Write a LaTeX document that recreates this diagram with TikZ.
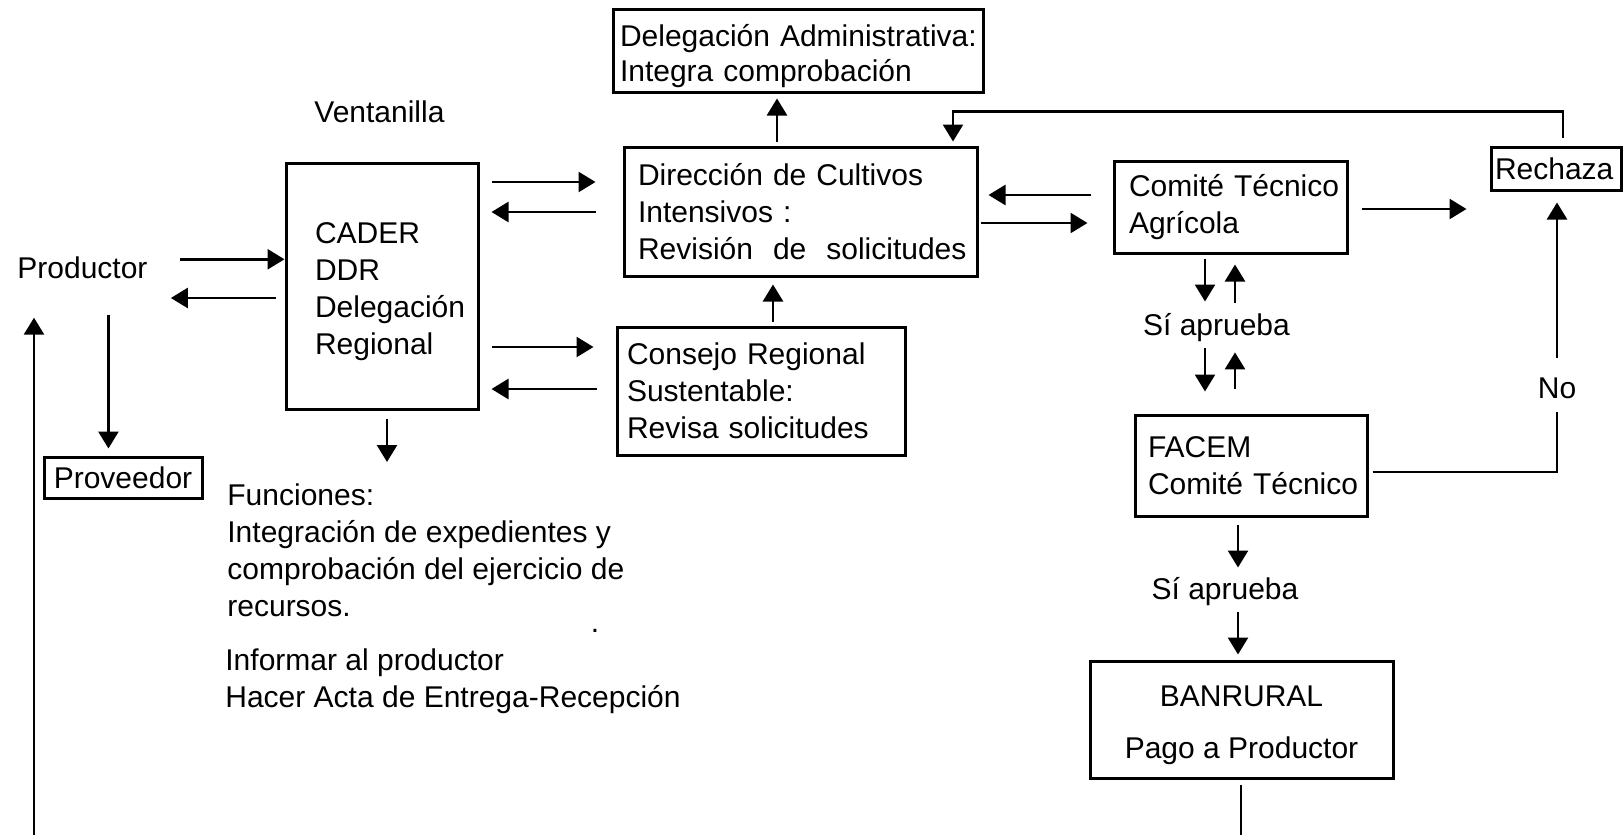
\documentclass[tikz,border=0pt]{standalone}
\usepackage{fontspec}
\setmainfont{Liberation Sans}
\usetikzlibrary{arrows.meta}
\usetikzlibrary{calc}
\hfuzz=300pt
\hbadness=10000
\newcommand{\alto}[1]{\rule{0pt}{#1}}% taller first line, pushes the text down
\tikzset{
	caja/.style={draw, line width=1.5pt, inner sep=0pt, align=left},
	texto/.style={inner sep=0pt, align=left},
	flecha/.style={line width=1.3pt, -{Triangle[length=8.5pt,width=10pt]}},
	linea/.style={line width=1.3pt}
}

\begin{document}
\begin{tikzpicture}[x=0.5pt, y=-0.5pt, font=\fontsize{15pt}{18.5pt}\selectfont]
	\useasboundingbox (0,0) rectangle (1623,835);

	%boxes
	\node[caja, minimum width=185pt, minimum height=41.5pt, text width=178pt,
		font=\fontsize{15pt}{17.5pt}\selectfont] (delad) at (798,50.5)
		{\alto{17pt}\mbox{Delegación Administrativa:}\\\mbox{Integra comprobación}};
	\node[caja, minimum width=96pt, minimum height=123pt, text width=67pt] (cader) at (382,286)
		{\alto{16pt}CADER\\DDR\\\mbox{Delegación}\\Regional};
	\node[caja, minimum width=176.5pt, minimum height=64.5pt, text width=162.5pt] (direccion) at (800.5,211.5)
		{\mbox{Dirección de Cultivos}\\\mbox{Intensivos :}\\\mbox{Revisión~ de~ solicitudes}};
	\node[caja, minimum width=144pt, minimum height=64pt, text width=134pt] (consejo) at (761,391)
		{\mbox{Consejo Regional}\\\mbox{Sustentable:}\\\mbox{Revisa solicitudes}};
	\node[caja, minimum width=116.5pt, minimum height=46pt, text width=101.5pt] (comite) at (1230.5,207)
		{\mbox{Comité Técnico}\\Agrícola};
	\node[caja, minimum width=65pt, minimum height=21.5pt, text width=61pt] (rechaza) at (1556,168.5)
		{Rechaza};
	\node[caja, minimum width=116pt, minimum height=50.5pt, text width=103pt] (facem) at (1251,465.5)
		{FACEM\\\mbox{Comité Técnico}};
	\node[caja, minimum width=151.5pt, minimum height=58.5pt, align=center] (banrural) at (1241.5,719.5)
		{\alto{16pt}BANRURAL\\[7.5pt]Pago a Productor};
	\node[caja, minimum width=79pt, minimum height=20.5pt, align=center] (proveedor) at (123,477.5)
		{Proveedor};

	%free texts
	\node[texto, anchor=base west] (ventanilla) at (314,122) {Ventanilla};
	\node[texto, anchor=base west] (productor) at (17,278) {Productor};
	\node[texto, anchor=north west] (funciones) at (227,483)
		{Funciones:\\Integración de expedientes y\\comprobación del ejercicio de\\recursos.};
	\node[texto, anchor=north west] (informar) at (225,648)
		{Informar al productor\\Hacer Acta de Entrega-Recepción};
	\node[texto, anchor=base, inner ysep=5.5pt, text depth=0pt] (siaprueba1) at (1216.5,335) {Sí aprueba};
	\node[texto, anchor=base, inner ysep=4.5pt, text depth=0pt] (siaprueba2) at (1225,599) {Sí aprueba};
	\node[texto, anchor=base, inner ysep=7pt, text depth=0pt] (no) at (1557,398) {No};
	\node[texto, anchor=base] (punto) at (595,632) {.};
	\coordinate (izq) at (34,835);
	\coordinate (fondo) at (0,835);

	%productor and CADER
	\draw[flecha] ($(productor.east)+(32,-8)$) coordinate (a1) -- (a1 -| cader.west);
	\draw[flecha, shorten >=11.5pt] ($(cader.west)+(-9,12)$) coordinate (a2) -- (a2 -| productor.east);
	\draw[flecha, shorten >=3.5pt] ($(productor.south)+(26,36)$) coordinate (a3) -- (a3 |- proveedor.north);
	\draw[flecha, shorten >=19.5pt] (izq) -- (izq |- productor.south);
	\draw[flecha, shorten >=10.5pt] ($(cader.south)+(5,8)$) coordinate (a9) -- (a9 |- funciones.north);

	%CADER and the middle column
	\draw[flecha, shorten >=13.5pt] ($(cader.east)+(12,-104)$) coordinate (a5) -- (a5 -| direccion.west);
	\draw[flecha, shorten >=6pt] ($(direccion.west)+(-27,0.5)$) coordinate (a6) -- (a6 -| cader.east);
	\draw[flecha, shorten >=11pt] ($(cader.east)+(12,61)$) coordinate (a7) -- (a7 -| consejo.west);
	\draw[flecha, shorten >=6pt] ($(consejo.west)+(-19,-2)$) coordinate (a8) -- (a8 -| cader.east);
	\draw[flecha, shorten >=2.5pt] ($(direccion.north)+(-23.5,-4)$) coordinate (a10) -- (a10 |- delad.south);
	\draw[flecha, shorten >=3.5pt] ($(consejo.north)+(12,-4)$) coordinate (a11) -- (a11 |- direccion.south);

	%comite, rechaza
	\draw[flecha, shorten >=5pt] ($(comite.west)+(-22,-12)$) coordinate (a12) -- (a12 -| direccion.east);
	\draw[flecha, shorten >=12.5pt] ($(direccion.east)+(2,11.5)$) coordinate (a13) -- (a13 -| comite.west);
	\draw[flecha, shorten >=11.5pt] ($(comite.east)+(13,2)$) coordinate (a14) -- (a14 -| rechaza.west);
	\draw[flecha] ($(rechaza.north)+(7,-8)$) -- ++(0,-26) -| ($(direccion.north)+(152.5,-4)$);

	%comite -- FACEM
	\draw[flecha] ($(comite.south)+(-25.5,4)$) coordinate (a16) -- (a16 |- siaprueba1.north);
	\draw[flecha, shorten >=5pt] ($(siaprueba1.north)+(18.5,1)$) coordinate (a17) -- (a17 |- comite.south);
	\draw[flecha, shorten >=11pt] ($(siaprueba1.south)+(-11.5,2)$) coordinate (a18) -- (a18 |- facem.north);
	\draw[flecha, shorten >=3pt] ($(facem.north)+(-16,-25)$) coordinate (a19) -- (a19 |- siaprueba1.south);
	\draw[linea] ($(facem.east)+(4,6.5)$) -| (no.south);
	\draw[flecha, shorten <=2.5pt, shorten >=5.5pt] (no.north) -- (no.north |- rechaza.south);

	%FACEM -- BANRURAL
	\draw[flecha] ($(facem.south)+(-13,7)$) coordinate (a21) -- (a21 |- siaprueba2.north);
	\draw[flecha, shorten >=2.5pt] ($(siaprueba2.south)+(13,4)$) coordinate (a22) -- (a22 |- banrural.north);
	\draw[linea] ($(banrural.south)+(-0.5,5)$) coordinate (a23) -- (a23 |- fondo);
\end{tikzpicture}
\end{document}
